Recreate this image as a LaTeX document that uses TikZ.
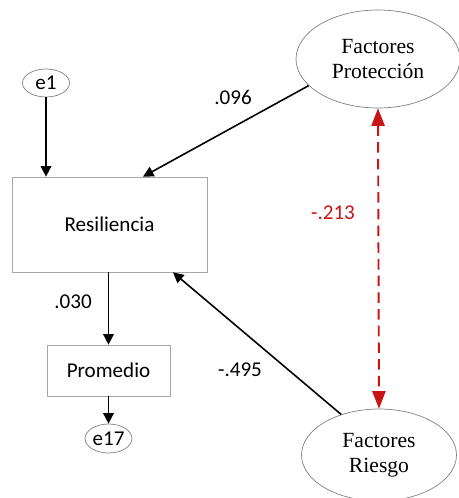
\documentclass[tikz,border=0pt]{standalone}
\usepackage{fontspec}
\setmainfont{Liberation Serif}
\setsansfont{Carlito}
\usetikzlibrary{arrows.meta,shapes.geometric}
\definecolor{corrred}{RGB}{200,20,20}

\begin{document}
\begin{tikzpicture}[>={Triangle[length=6pt,width=6pt]},x=0.02cm,y=-0.02cm,
  latent/.style={ellipse,draw=gray,thin,align=center,inner sep=0pt,
    font=\rmfamily\fontsize{12.3}{14.2}\selectfont},
  errv/.style={ellipse,draw=gray,thin,inner sep=0pt,minimum width=0.94cm,
    minimum height=0.56cm,font=\sffamily\fontsize{12}{14}\selectfont},
  obsv/.style={rectangle,draw=gray!70,thin,font=\sffamily\fontsize{12}{14}\selectfont},
  coef/.style={font=\sffamily\fontsize{12}{14}\selectfont}]
\useasboundingbox (0,0) rectangle (459,498);
\node[latent,minimum width=3.28cm,minimum height=1.96cm] (prot) at (378,59) {Factores\\Protección};
\node[latent,minimum width=3.1cm,minimum height=1.84cm] (ries) at (379,455) {Factores\\Riesgo};
\node[errv] (e1) at (46,83) {e1};
\node[obsv,minimum width=3.9cm,minimum height=1.9cm] (res) at (109.5,224.5) {Resiliencia};
\node[obsv,minimum width=2.46cm,minimum height=1.02cm] (prom) at (108.5,370.5) {Promedio};
\node[errv,minimum height=0.58cm] (e17) at (108.5,438.5) {e17};
\draw[->,line width=0.9pt] (e1) -- (e1 |- res.north);
\draw[->,line width=0.9pt] (prot.201) -- (res.55);
\draw[->,line width=0.9pt] (ries.133) -- (res.-37);
\draw[->,line width=0.9pt] (res.south -| prom) -- (prom.north);
\draw[->,line width=0.9pt] (prom) -- (e17);
% covariance
\draw[{Triangle[length=10pt,width=7.5pt]}-{Triangle[length=10pt,width=7.5pt]},
  corrred,line width=1.1pt,dash pattern=on 6pt off 3.5pt] (prot.south) -- (ries.north);
\node[coef] (c1) at (233,97) {.096};
\node[coef] (c2) at (73,302) {.030};
\node[coef] (c3) at (240,370) {-.495};
\node[coef,text=corrred] (c4) at (333,213) {-.213};
\end{tikzpicture}
\end{document}
